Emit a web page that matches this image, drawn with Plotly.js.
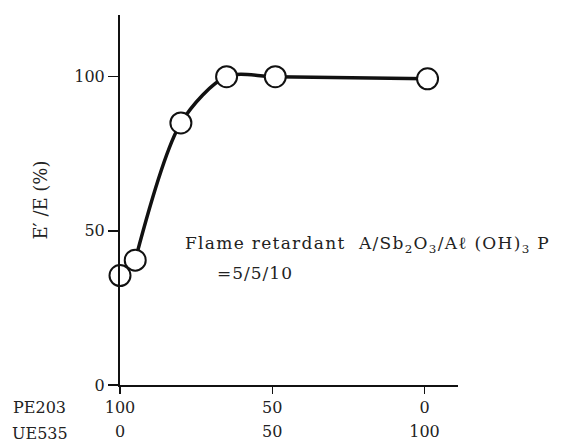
<!DOCTYPE html>
<html>
<head>
<meta charset="utf-8">
<script src="https://cdn.plot.ly/plotly-3.0.1.min.js"></script>
<style>html,body{margin:0;padding:0;background:#fff;}#chart{width:561px;height:445px;}</style>
</head>
<body>
<div id="chart"></div>
<script>
// UE535 content (PE203 = 100 - UE535)
const ue535 = [0, 5, 20, 35, 51, 101];
const ratio = [35.5, 40.5, 85, 100, 100, 99.3];
const tickPos = [0, 50, 100];
const peLabels = ["100", "50", "0"];
const ueLabels = ["0", "50", "100"];
const yTicks = [0, 50, 100];
const rowNames = ["PE203", "UE535"];
const noteLine1 = "Flame retardant  A/Sb<sub>2</sub>O<sub>3</sub>/Aℓ (OH)<sub>3</sub> P";
const noteLine2 = "=5/5/10";

const serif = "'DejaVu Serif', 'Liberation Serif', serif";
const fnt = {family: serif, size: 16, color: "#222"};

// curve drawn from the second point on (the first two circles overlap)
const curve = {
  x: ue535.slice(1), y: ratio.slice(1), type: "scatter", mode: "lines",
  line: {color: "#111", width: 3.5, shape: "spline", smoothing: 0.85},
  hoverinfo: "skip", showlegend: false, cliponaxis: false
};
const points = {
  x: ue535, y: ratio, type: "scatter", mode: "markers",
  marker: {symbol: "circle", size: 21, color: "#fff", line: {color: "#111", width: 2}},
  hoverinfo: "skip", showlegend: false, cliponaxis: false
};
// carries the second (UE535) tick row
const axis2 = {
  x: ue535, y: ratio, xaxis: "x2", yaxis: "y", type: "scatter", mode: "none",
  hoverinfo: "skip", showlegend: false
};

const layout = {
  width: 561, height: 445,
  margin: {l: 120, r: 103, t: 15, b: 60},
  paper_bgcolor: "#fff", plot_bgcolor: "#fff",
  font: fnt,
  showlegend: false,
  xaxis: {
    range: [0, 111], showgrid: false, zeroline: false,
    showline: true, linecolor: "#111", linewidth: 2,
    tickvals: tickPos, ticktext: peLabels,
    ticks: "outside", ticklen: 7, tickwidth: 1.5, tickcolor: "#111",
    tickfont: fnt
  },
  xaxis2: {
    overlaying: "x", anchor: "y", side: "bottom",
    range: [0, 111], showgrid: false, zeroline: false, showline: false,
    tickvals: tickPos, ticktext: ueLabels, ticks: "",
    ticklabelstandoff: 35, tickfont: fnt
  },
  yaxis: {
    range: [0, 120], showgrid: false, zeroline: false,
    showline: true, linecolor: "#111", linewidth: 2,
    tickvals: yTicks, ticktext: yTicks.map(String),
    ticks: "outside", ticklen: 10, tickwidth: 1.5, tickcolor: "#111",
    tickfont: fnt,
    title: {text: "E′ /E (%)", font: {family: serif, size: 18, color: "#222"}, standoff: 22}
  },
  annotations: [
    {text: rowNames[0], xref: "paper", yref: "paper", x: -0.237, y: -0.0595, xanchor: "center", yanchor: "middle", showarrow: false, font: fnt},
    {text: rowNames[1], xref: "paper", yref: "paper", x: -0.237, y: -0.13, xanchor: "center", yanchor: "middle", showarrow: false, font: fnt},
    {text: "<span style='letter-spacing:1.3px'>" + noteLine1 + "</span>", xref: "paper", yref: "paper", x: 0.1865, y: 0.381, xanchor: "left", yanchor: "middle", showarrow: false, font: {family: serif, size: 17, color: "#222"}},
    {text: "<span style='letter-spacing:1px'>" + noteLine2 + "</span>", xref: "paper", yref: "paper", x: 0.281, y: 0.303, xanchor: "left", yanchor: "middle", showarrow: false, font: {family: serif, size: 17, color: "#222"}}
  ]
};

Plotly.newPlot("chart", [curve, points, axis2], layout, {displayModeBar: false, staticPlot: true});
</script>
</body>
</html>
